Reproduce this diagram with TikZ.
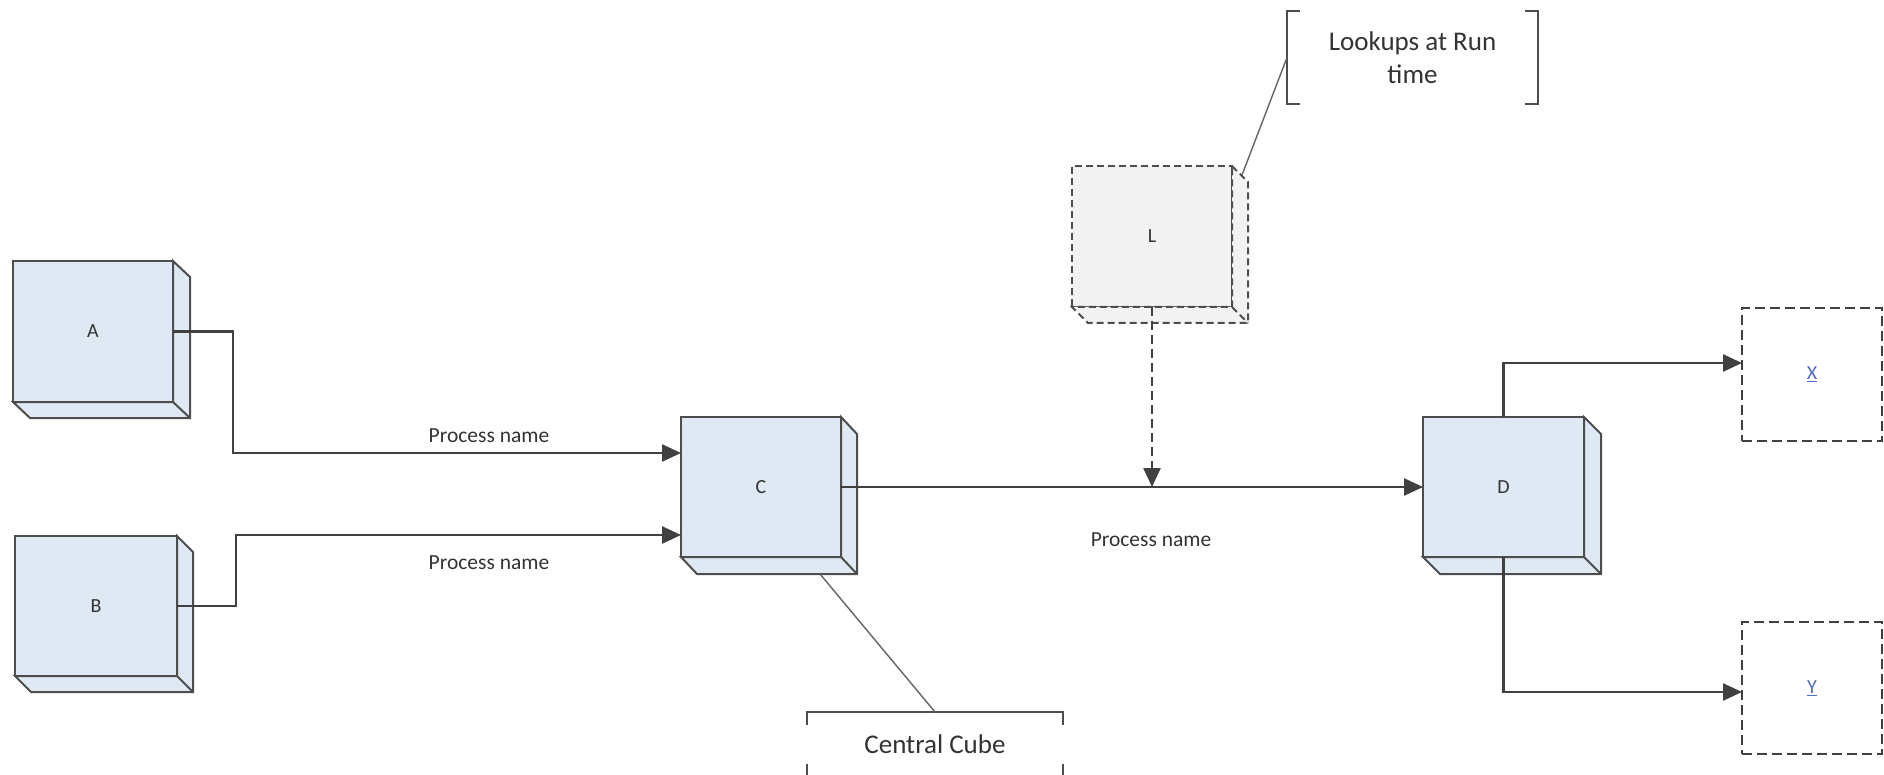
\documentclass[tikz,border=0pt]{standalone}
\usepackage{fontspec}
\setmainfont{Carlito}
\usetikzlibrary{arrows.meta,calc}
\definecolor{cubefill}{RGB}{223,233,243}
\definecolor{lfill}{RGB}{242,242,242}
\definecolor{linec}{RGB}{64,64,64}
\definecolor{cubeline}{RGB}{77,77,77}
\definecolor{txt}{RGB}{51,51,51}
\definecolor{linkc}{RGB}{84,108,196}
\definecolor{leadc}{RGB}{100,100,100}
\newcommand{\cubesides}[4]{%
  \filldraw[#4] (#1.north east) -- ++(#2,#3) -- ($(#1.south east)+(#2,#3)$) -- ($(#1.south west)+(#2,#3)$) -- (#1.south west) -- (#1.south east) -- cycle;
  \draw[#4] (#1.south east) -- ++(#2,#3);
}
\begin{document}
\begin{tikzpicture}[x=1pt,y=-1pt,
  cubebox/.style={draw=cubeline, fill=cubefill, line width=2pt, minimum width=160pt, minimum height=141pt,
    inner sep=0pt, outer sep=0pt, font=\fontsize{20}{24}\selectfont, text=txt},
  sidestyle/.style={draw=cubeline, fill=cubefill, line width=2pt, line join=miter},
  lsidestyle/.style={draw=cubeline, fill=lfill, line width=2pt, dash pattern=on 7pt off 4pt},
  conn/.style={draw=linec, line width=2.5pt, -{Triangle[length=19pt,width=17pt]}},
  dconn/.style={draw=linec, line width=2.5pt, dash pattern=on 9pt off 5pt, -{Triangle[length=19pt,width=17pt]}},
  outbox/.style={draw=linec, line width=1.8pt, dash pattern=on 10pt off 5pt, minimum width=140pt, minimum height=133pt,
    inner sep=0pt, outer sep=0pt, font=\fontsize{20}{24}\selectfont, text=linkc},
  lbl/.style={font=\fontsize{21.5}{26}\selectfont, text=txt, inner sep=0pt},
  callout/.style={font=\fontsize{27}{33}\selectfont, text=txt, align=center, inner sep=0pt, outer sep=0pt},
  bracket/.style={draw=cubeline, line width=1.8pt},
  leader/.style={draw=leadc, line width=1.4pt}
]
\useasboundingbox (0,0) rectangle (1884,775);

% cubes
\node[cubebox] (A) at (93,331.5) {A};
\cubesides{A}{17}{16}{sidestyle}
\node[cubebox, minimum width=162pt, minimum height=140pt] (B) at (96,606) {B};
\cubesides{B}{16}{16}{sidestyle}
\node[cubebox, minimum height=140pt] (C) at (761,487) {C};
\cubesides{C}{16}{17}{sidestyle}
\node[cubebox, minimum width=161pt, minimum height=140pt] (D) at (1503.5,487) {D};
\cubesides{D}{17}{17}{sidestyle}
\node[cubebox, fill=lfill, dash pattern=on 7pt off 4pt] (L) at (1152,236.5) {L};
\cubesides{L}{16}{16}{lsidestyle}

% outputs
\node[outbox] (X) at (1812,374.5) {\underline{X}};
\node[outbox, minimum height=132pt] (Y) at (1812,688) {\underline{Y}};

% callouts
\node[callout, minimum width=251pt, minimum height=93pt] (lk) at (1412.5,57.5) {Lookups at Run\\time};
\draw[bracket] ($(lk.north west)+(13,0)$) -- (lk.north west) -- (lk.south west) -- ++(13,0);
\draw[bracket] ($(lk.north east)+(-13,0)$) -- (lk.north east) -- (lk.south east) -- ++(-13,0);
\node[callout, minimum width=256pt, minimum height=65pt] (cc) at (935,744.5) {Central Cube};
\draw[bracket] ($(cc.north west)+(0,13)$) -- (cc.north west) -- (cc.north east) -- ++(0,13);
\draw[bracket] ($(cc.south west)+(0,-13)$) -- (cc.south west) -- (cc.south east) -- ++(0,-13);

% leaders
\draw[leader] ($(L.north east)+(10,9)$) -- (lk.west);
\draw[leader] ($(C.south)+(59,17)$) -- (cc.north);

% connectors
\draw[conn] (A.east) -| (233,400) |- ([yshift=34pt]C.west);
\draw[conn] (B.east) -| (236,570) |- ([yshift=-48pt]C.west);
\draw[conn] (C.east) -- (D.west);
\draw[dconn] (L.south) -- (L.south |- C.east);
\draw[conn] (D.north) |- ([yshift=11.5pt]X.west);
\draw[conn] (D.south) |- ([yshift=-4pt]Y.west);

% labels
\node[lbl] (p1) at (489,436) {Process name};
\node[lbl] (p2) at (489,563) {Process name};
\node[lbl] (p3) at (1151,540) {Process name};
\end{tikzpicture}
\end{document}
